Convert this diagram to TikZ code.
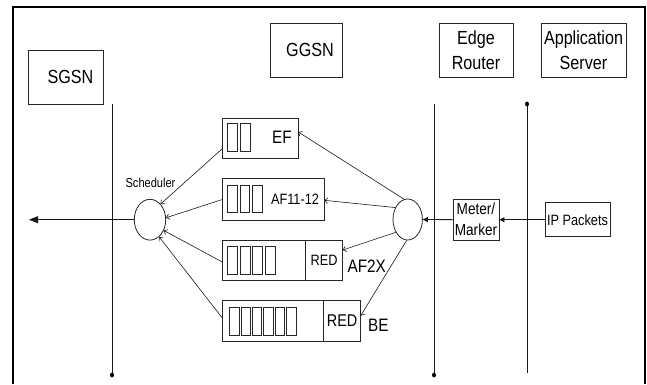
\documentclass[tikz,border=0pt]{standalone}
\usepackage{fontspec}
\setmainfont{Liberation Sans}[FakeStretch=0.85]
\usetikzlibrary{shapes.geometric,arrows.meta,calc}
\begin{document}
\begin{tikzpicture}[x=1pt,y=-1pt,
  box/.style={draw=black!85,line width=0.8pt,rectangle,inner sep=0pt},
  cell/.style={draw=black!85,line width=0.8pt,rectangle,inner sep=0pt,minimum width=#1},
  cell/.default=10pt,
  oval/.style={draw=black!85,line width=0.8pt,ellipse,inner sep=0pt},
  lbl/.style={inner sep=0pt},
  big/.style={font=\fontsize{19}{25}\selectfont},
  vline/.style={draw=black!90,line width=0.8pt},
  qarrow/.style={draw=black!90,line width=0.6pt,-{Straight Barb[length=3pt,width=5.5pt]}},
  farrow/.style={draw=black!90,line width=0.8pt,-{Triangle[length=5pt,width=5pt]}},
]
\useasboundingbox (0,0) rectangle (647,384);
% frame
\draw[line width=2.7pt,line join=miter] (13,384) -- (13,7) -- (645,7) -- (645,384);

% top boxes
\node[box,minimum width=75pt,minimum height=54pt] (sgsn) at (65.5,77) {};
\node[lbl,big] (sgsnl) at (70.5,77) {SGSN};
\node[box,minimum width=72pt,minimum height=54pt] (ggsn) at (306,50) {};
\node[lbl,big] (ggsnl) at (310,50) {GGSN};
\node[box,minimum width=74pt,minimum height=54pt,big,align=center] (edge) at (476,50) {Edge\\Router};
\node[box,minimum width=85pt,minimum height=54pt,big,align=center] (app) at (583.5,50) {Application\\Server};

% vertical lines
\coordinate (sgtop) at (112,104); \coordinate (sgbot) at (112,375);
\coordinate (ertop) at (434,104); \coordinate (erbot) at (434,375);
\coordinate (astop) at (527,104); \coordinate (asbot) at (527,373);
\draw[vline] (sgtop) -- (sgbot);
\draw[vline] (ertop) -- (erbot);
\draw[vline] (astop) -- (asbot);
\fill (sgbot) ellipse (2pt and 2.4pt);
\fill (erbot) ellipse (2pt and 2.4pt);
\fill (astop) ellipse (2pt and 2.4pt);

% scheduler and classifier ellipses
\node[oval,minimum width=31.4pt,minimum height=40.8pt] (sched) at (150,219.7) {};
\node[lbl,font=\fontsize{13}{15}\selectfont] (schedl) at (150.5,183) {Scheduler};
\node[oval,minimum width=29.4pt,minimum height=41pt] (mell) at (407.7,219.5) {};

% meter and IP packets
\node[box,minimum width=46pt,minimum height=41pt,align=center,font=\fontsize{16}{21}\selectfont] (meter) at (476,219.7) {Meter/\\Marker};
\node[box,minimum width=65pt,minimum height=34pt,font=\fontsize{15}{18}\selectfont] (ip) at (577.5,219.7) {IP Packets};

% queue EF
\node[box,minimum width=76pt,minimum height=40.7pt] (ef) at (260.3,138.35) {};
\foreach \i in {0,1} \node[cell,minimum height=28pt] (efc\i) at (232+13*\i,137.5) {};
\node[lbl,font=\fontsize{18}{20}\selectfont] (efl) at (282,137) {EF};

% queue AF11-12
\node[box,minimum width=102pt,minimum height=41.6pt] (af) at (273.3,199.5) {};
\foreach \i in {0,1,2} \node[cell=9.5pt,minimum height=27.5pt] (afc\i) at (232.25+12.5*\i,198.75) {};
\node[lbl,font=\fontsize{15}{18}\selectfont] (afl) at (295,199.5) {AF11-12};

% queue AF2X
\node[box,minimum width=120.4pt,minimum height=40.5pt] (ax) at (282.5,260.25) {};
\foreach \i in {0,1,2,3} \node[cell,minimum height=28pt] (axc\i) at (232.5+12.5*\i,260) {};
\node[box,minimum width=37pt,minimum height=40.5pt,font=\fontsize{15}{18}\selectfont] (axred) at (324.2,260.25) {RED};
\node[lbl,font=\fontsize{18}{20}\selectfont] (axl) at (366.7,266.5) {AF2X};

% queue BE
\node[box,minimum width=138.4pt,minimum height=40.8pt] (be) at (291.5,321.1) {};
\foreach \i in {0,...,5} \node[cell=9.5pt,minimum height=27.5pt] (bec\i) at (234.25+11.4*\i,321.25) {};
\node[box,minimum width=37.2pt,minimum height=40.8pt,font=\fontsize{17}{19}\selectfont] (bered) at (342.1,321.1) {RED};
\node[lbl,font=\fontsize{18}{20}\selectfont] (bel) at (378.3,325.7) {BE};

% entry / exit points on queue boxes
\coordinate (efin) at (298.3,132);
\coordinate (afin) at (324.3,200.3);
\coordinate (axin) at (342.7,250);
\coordinate (bein) at (360.7,315.7);
\coordinate (efout) at (222.3,148.7);
\coordinate (afout) at (222.3,199.5);
\coordinate (axout) at (222.3,262);
\coordinate (beout) at (222.3,318);
\coordinate (sink) at (29,219.7);

% classifier to queues
\draw[qarrow] (mell.100) -- (efin);
\draw[qarrow] (mell.136) -- (afin);
\draw[qarrow] (mell.227) -- (axin);
\draw[qarrow] (mell.267) -- (bein);

% queues to scheduler
\draw[qarrow] (efout) -- (sched.56);
\draw[qarrow] (afout) -- (sched.7);
\draw[qarrow] (axout) -- (sched.322);
\draw[qarrow] (beout) -- (sched.298);

% main flow
\draw[farrow] (ip) -- (meter);
\draw[farrow] (meter) -- (mell);
\draw[draw=black!90,line width=0.8pt,-{Triangle[length=9pt,width=7pt]}] (sched.west) -- (sink);
\end{tikzpicture}
\end{document}
